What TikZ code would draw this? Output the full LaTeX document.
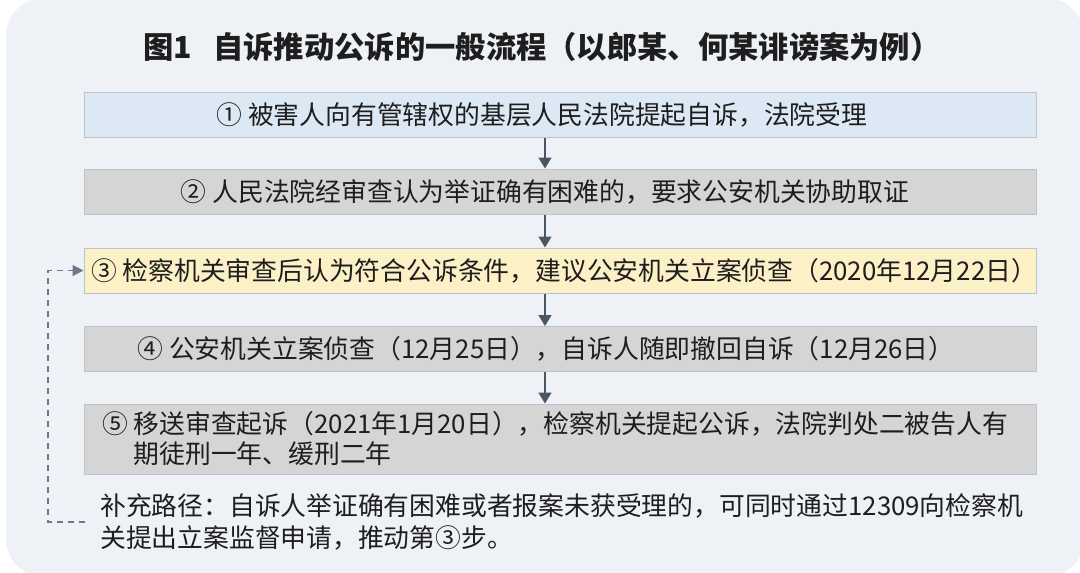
\documentclass[tikz,border=0pt]{standalone}
\usepackage{fontspec}
\setmainfont{Noto Sans CJK SC}
\usetikzlibrary{arrows.meta}
\definecolor{panelbg}{HTML}{EEF1F5}
\definecolor{ink}{HTML}{1E1E1E}
\definecolor{bluebox}{HTML}{DCE8F4}
\definecolor{greybox}{HTML}{D5D5D5}
\definecolor{yellowbox}{HTML}{FCF0C6}
\definecolor{boxline}{HTML}{BFC3C8}
\definecolor{arrowc}{HTML}{4A5566}
\definecolor{dashc}{HTML}{6E7886}

\begin{document}
\begin{tikzpicture}
  [x=1pt,y=-1pt,
   stagebox/.style={draw=boxline,line width=1pt,minimum width=952pt,minimum height=45pt,inner sep=0pt},
   stagetext/.style={text=ink,inner sep=0pt,align=left,font=\fontsize{25.8}{30}\selectfont},
   flow/.style={draw=arrowc,line width=1.4pt,-{Triangle[length=11pt,width=13pt]}},
   backflow/.style={draw=dashc,line width=1.2pt,dash pattern=on 6pt off 5pt,-{Triangle[length=11pt,width=11pt]}}]
  \useasboundingbox (0,0) rectangle (1080,573);
  \fill[panelbg,rounded corners=38pt] (6,-2) rectangle (1084,577);
  % title
  \node[text=ink,font=\bfseries\fontsize{30.3}{36}\selectfont] (title) at (542,47)
    {图1\hspace{0.7em}自诉推动公诉的一般流程（以郎某、何某诽谤案为例）};
  % stages
  \node[stagebox,fill=bluebox] (s1) at (560,114.5) {};
  \node[stagebox,fill=greybox] (s2) at (560,191.5) {};
  \node[stagebox,fill=yellowbox] (s3) at (560,270.5) {};
  \node[stagebox,fill=greybox] (s4) at (560,349) {};
  \node[stagebox,fill=greybox,minimum height=70pt] (s5) at (560,439) {};
  \node[stagetext] (t1) at (542,114.5) {① 被害人向有管辖权的基层人民法院提起自诉，法院受理};
  \node[stagetext] (t2) at (545,191.5) {② 人民法院经审查认为举证确有困难的，要求公安机关协助取证};
  \node[stagetext] (t3) at (564,270.5) {③ 检察机关审查后认为符合公诉条件，建议公安机关立案侦查（2020年12月22日）};
  \node[stagetext] (t4) at (546,349) {④ 公安机关立案侦查（12月25日），自诉人随即撤回自诉（12月26日）};
  \node[stagetext,anchor=west] (t5) at (102,439)
    {⑤ 移送审查起诉（2021年1月20日），检察机关提起公诉，法院判处二被告人有\\
     \phantom{⑤ }期徒刑一年、缓刑二年};
  % supplementary path
  \node[stagetext,anchor=west,inner xsep=15pt,font=\fontsize{25.8}{32}\selectfont] (note) at (85,522)
    {补充路径：自诉人举证确有困难或者报案未获受理的，可同时通过12309向检察机\\
     关提出立案监督申请，推动第③步。};
  \coordinate (turn) at (48,270.5);
  \foreach \from/\to in {s1/s2,s2/s3,s3/s4,s4/s5}
    \draw[flow] (\from.south -| t2.center) -- (\to.north -| t2.center);
  \draw[backflow] (note.west) -| (turn) -- (s3.west);
\end{tikzpicture}
\end{document}
